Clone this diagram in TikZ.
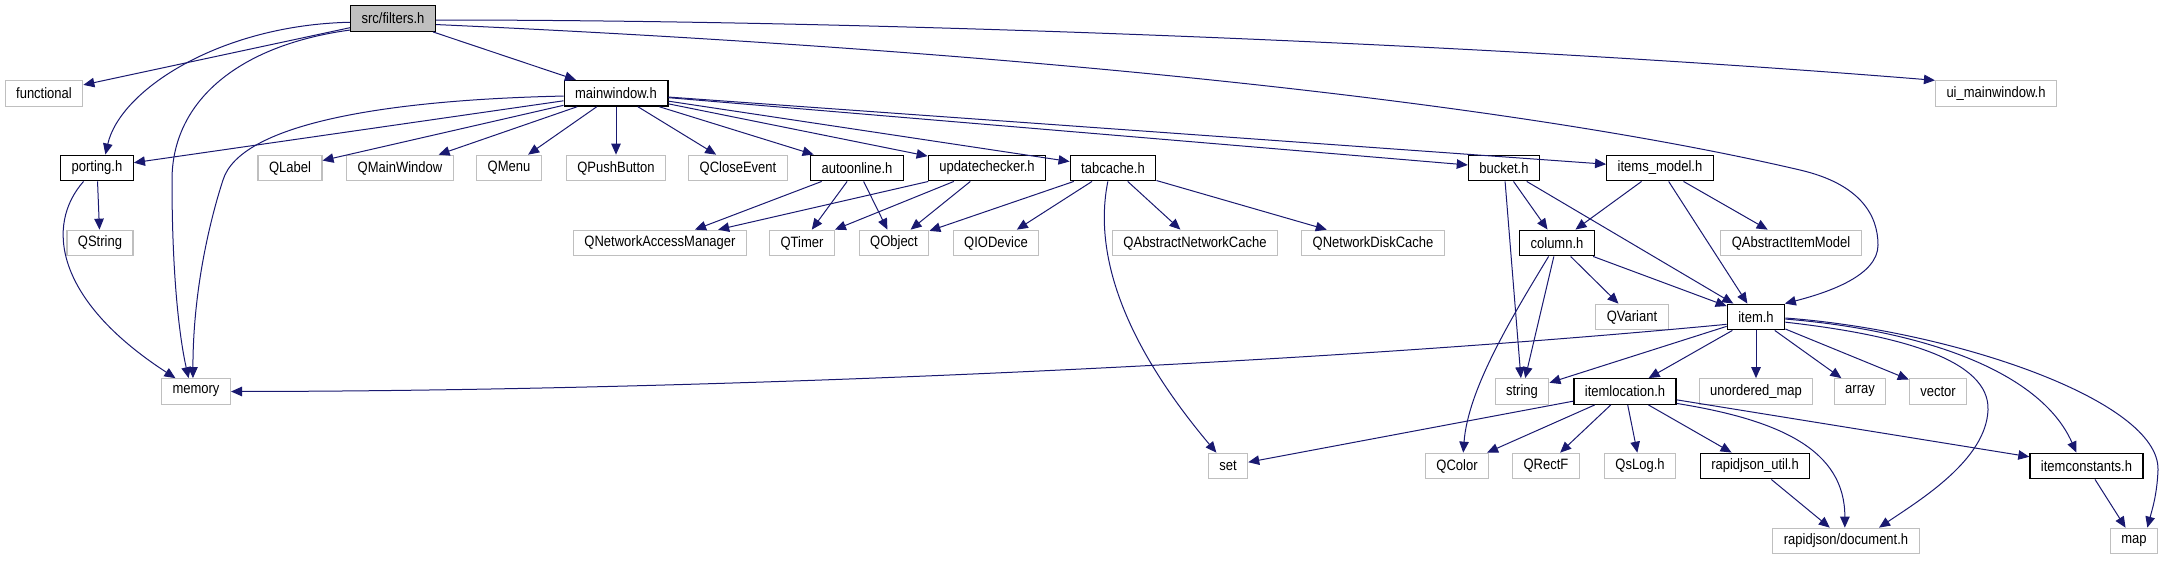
\documentclass[tikz,border=0pt]{standalone}
\usepackage{fontspec}
\setmainfont{Liberation Sans}
\newfontfamily\dxfont[FakeStretch=0.867]{Liberation Sans}
\usetikzlibrary{arrows.meta}

\definecolor{edgeblue}{HTML}{191970}
\definecolor{grey75}{HTML}{BFBFBF}

\begin{document}
\begin{tikzpicture}[
  x=1pt, y=-1pt,
  every node/.style={rectangle, minimum height=25.6pt, inner xsep=11pt, inner ysep=2pt,
    font=\dxfont\fontsize{15}{17}\selectfont},
  hdr/.style={draw=black, line width=1.3pt, fill=white},
  sys/.style={draw=grey75, line width=1.1pt, fill=white},
  dep/.style={draw=edgeblue, line width=1pt, -{Triangle[length=11pt,width=9.5pt]}}
]
\useasboundingbox (0,0) rectangle (2166,560);

% row 1
\node[hdr, fill=grey75] (filters) at (393,18.5) {src/filters.h};
% row 2
\node[sys] (functional)   at (44,93.3)   {functional};
\node[hdr] (mainwindow)   at (616,93.3)  {mainwindow.h};
\node[sys] (uimainwindow) at (1996,93.3) {ui\_mainwindow.h};
% row 3
\node[hdr] (porting)       at (97,168)   {porting.h};
\node[sys] (qlabel)        at (290,168)  {QLabel};
\node[sys] (qmainwindow)   at (400,168)  {QMainWindow};
\node[sys] (qmenu)         at (509,168)  {QMenu};
\node[sys] (qpushbutton)   at (616,168)  {QPushButton};
\node[sys] (qcloseevent)   at (738,168)  {QCloseEvent};
\node[hdr] (autoonline)    at (857,168)  {autoonline.h};
\node[hdr] (updatechecker) at (987,168)  {updatechecker.h};
\node[hdr] (tabcache)      at (1113,168) {tabcache.h};
\node[hdr] (bucket)        at (1504,168) {bucket.h};
\node[hdr] (itemsmodel)    at (1660,168) {items\_model.h};
% row 4
\node[sys] (qstring)   at (100,243)  {QString};
\node[sys] (qnam)      at (660,243)  {QNetworkAccessManager};
\node[sys] (qtimer)    at (802,243)  {QTimer};
\node[sys] (qobject)   at (894,243)  {QObject};
\node[sys] (qiodevice) at (996,243)  {QIODevice};
\node[sys] (qanc)      at (1195,243) {QAbstractNetworkCache};
\node[sys] (qndc)      at (1373,243) {QNetworkDiskCache};
\node[hdr] (column)    at (1557,243) {column.h};
\node[sys] (qaim)      at (1791,243) {QAbstractItemModel};
% row 5
\node[sys] (qvariant) at (1632,317) {QVariant};
\node[hdr] (itemh)    at (1756,317) {item.h};
% row 6
\node[sys] (memory)       at (196,391.5)  {memory};
\node[sys] (string)       at (1522,391.5) {string};
\node[hdr] (itemlocation) at (1625,391.5) {itemlocation.h};
\node[sys] (unorderedmap) at (1756,391.5) {unordered\_map};
\node[sys] (array)        at (1860,391.5) {array};
\node[sys] (vector)       at (1938,391.5) {vector};
% row 7
\node[sys] (set)           at (1228,466)   {set};
\node[sys] (qcolor)        at (1457,466)   {QColor};
\node[sys] (qrectf)        at (1546,466)   {QRectF};
\node[sys] (qslog)         at (1640,466)   {QsLog.h};
\node[hdr] (rjutil)        at (1755,466)   {rapidjson\_util.h};
\node[hdr] (itemconstants) at (2086.5,466) {itemconstants.h};
% row 8
\node[sys] (rjdoc) at (1846,541) {rapidjson/document.h};
\node[sys] (map)   at (2134,541) {map};

% straight includes
\foreach \a/\b in {filters/functional, filters/mainwindow,
    mainwindow/porting, mainwindow/qlabel, mainwindow/qmainwindow, mainwindow/qmenu,
    mainwindow/qpushbutton, mainwindow/qcloseevent, mainwindow/autoonline,
    mainwindow/updatechecker, mainwindow/tabcache, mainwindow/bucket, mainwindow/itemsmodel,
    porting/qstring,
    autoonline/qnam, autoonline/qtimer, autoonline/qobject,
    updatechecker/qnam, updatechecker/qtimer, updatechecker/qobject,
    tabcache/qobject, tabcache/qiodevice, tabcache/qanc, tabcache/qndc,
    bucket/string, bucket/column, bucket/itemh,
    itemsmodel/column, itemsmodel/itemh, itemsmodel/qaim,
    column/string, column/qvariant, column/itemh,
    itemh/string, itemh/itemlocation, itemh/unorderedmap, itemh/array, itemh/vector,
    itemlocation/set, itemlocation/qcolor, itemlocation/qrectf, itemlocation/qslog,
    itemlocation/rjutil, itemlocation/itemconstants,
    rjutil/rjdoc, itemconstants/map}
  \draw[dep] (\a) -- (\b);

% curved includes
\draw[dep] (filters.185) .. controls (220,25) and (120,90) .. (porting.58);
\draw[dep] (filters.195) .. controls (240,45) and (172,100) .. (172,180)
  .. controls (172,280) and (180,340) .. (memory.119);
\draw[dep] (filters.358) .. controls (900,20) and (1500,45) .. (uimainwindow.168);
\draw[dep] (filters.352) .. controls (1000,50) and (1500,100) .. (1800,170)
  .. controls (1860,184) and (1878,215) .. (1878,245)
  .. controls (1878,275) and (1830,292) .. (itemh.25);
\draw[dep] (mainwindow.183) .. controls (380,100) and (240,125) .. (223,180)
  .. controls (210,220) and (193,290) .. (memory.103);
\draw[dep] (porting.225) .. controls (45,225) and (55,300) .. (memory.147);
\draw[dep] (tabcache.249) .. controls (1092,260) and (1130,350) .. (set.131);
\draw[dep] (column.238) .. controls (1510,320) and (1468,390) .. (qcolor.65);
\draw[dep] (itemh.194) .. controls (1300,365) and (700,391) .. (memory.east);
\draw[dep] (itemh.350) .. controls (1900,335) and (1990,360) .. (1988,410)
  .. controls (1986,460) and (1920,500) .. (rjdoc.22);
\draw[dep] (itemh.356) .. controls (1920,330) and (2040,370) .. (itemconstants.127);
\draw[dep] (itemh.358) .. controls (1950,330) and (2160,400) .. (2158,470)
  .. controls (2157,495) and (2152,510) .. (map.45);
\draw[dep] (itemlocation.347) .. controls (1780,420) and (1845,450) .. (rjdoc.95);
\end{tikzpicture}
\end{document}
